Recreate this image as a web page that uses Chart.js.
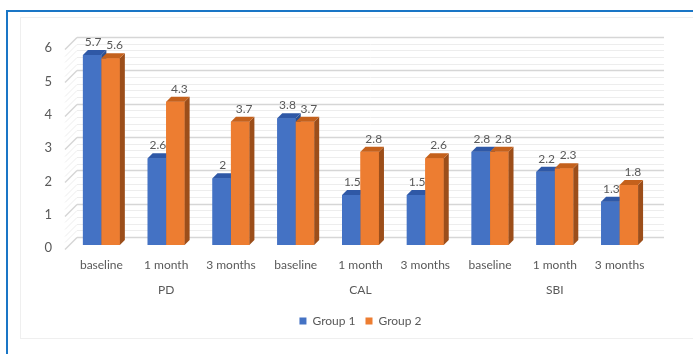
<!DOCTYPE html>
<html>
<head>
<meta charset="utf-8">
<script src="https://cdn.jsdelivr.net/npm/chart.js@4"></script>
<style>
  html, body { margin: 0; padding: 0; background: #fff; overflow: hidden; }
  #frame {
    position: absolute; left: 6px; top: 10px; width: 720px; height: 380px;
    border-top: 2px solid #1a76c6; border-left: 2px solid #1a76c6;
  }
  #inner {
    position: absolute; left: 20px; top: 17px; width: 700px; height: 320px;
    border: 1px solid #efefef;
  }
  #wrap { position: absolute; left: 0; top: 0; width: 693px; height: 354px; }
</style>
</head>
<body>
<div id="frame"></div>
<div id="inner"></div>
<div id="wrap"><canvas id="chart"></canvas></div>
<script>
"use strict";

// categories along the x axis, grouped by measure
var categories = ["baseline", "1 month", "3 months", "baseline", "1 month", "3 months", "baseline", "1 month", "3 months"];
var groups = ["PD", "CAL", "SBI"];
var group1 = [5.7, 2.6, 2, 3.8, 1.5, 1.5, 2.8, 2.2, 1.3];
var group2 = [5.6, 4.3, 3.7, 3.7, 2.8, 2.6, 2.8, 2.3, 1.8];
var yTicks = [0, 1, 2, 3, 4, 5, 6];

var TEXT = "#595959";
var FONT = "Lato, 'Open Sans', sans-serif";

// front, top and side colours of each 3D bar
var shades = [
  { front: "#4472C4", top: "#2f58a6", side: "#2b4f8f" },
  { front: "#ED7D31", top: "#c4611c", side: "#9c4e1a" }
];
var DEPTH = 5;   // bar extrusion
var WALL = 8;    // back wall offset

/* back wall and side wall grid, drawn behind the bars */
var wallPlugin = {
  id: "wall",
  beforeDatasetsDraw: function (chart) {
    var ctx = chart.ctx;
    var y = chart.scales.y;
    var area = chart.chartArea;
    ctx.save();
    for (var i = 0; i <= 30; i++) {
      var py = Math.round(y.getPixelForValue(i / 5)) + 0.5;
      var major = i % 5 === 0;
      ctx.strokeStyle = major ? "#d6d6d6" : "#ededed";
      ctx.lineWidth = major ? 1.5 : 1;
      ctx.beginPath();
      ctx.moveTo(area.left + WALL, py - WALL);
      ctx.lineTo(area.right + 12, py - WALL);
      ctx.moveTo(area.left - 4, py + 4);
      ctx.lineTo(area.left + WALL, py - WALL);
      ctx.stroke();
    }
    ctx.restore();
  }
};

/* keep the legend centred under the plot rather than the canvas */
var legendPlugin = {
  id: "legendCentre",
  afterUpdate: function (chart) {
    var lg = chart.legend;
    var area = chart.chartArea;
    var shift = (area.left + area.right) / 2 - (lg.left + lg.right) / 2;
    lg.left += shift;
    lg.right += shift;
  }
};

/* extrusion and value labels for every bar */
var barPlugin = {
  id: "bars3d",
  afterDatasetsDraw: function (chart) {
    var ctx = chart.ctx;
    ctx.save();
    var n = chart.data.labels.length;
    for (var j = 0; j < n; j++) {
      chart.data.datasets.forEach(function (ds, d) {
        var bar = chart.getDatasetMeta(d).data[j];
        var p = bar.getProps(["x", "y", "base", "width"], true);
        var l = p.x - p.width / 2, r = p.x + p.width / 2;
        var c = shades[d];
        ctx.fillStyle = c.front;
        ctx.fillRect(l, p.y, p.width, p.base - p.y);
        ctx.fillStyle = c.side;
        ctx.beginPath();
        ctx.moveTo(r, p.y);
        ctx.lineTo(r + DEPTH, p.y - DEPTH);
        ctx.lineTo(r + DEPTH, p.base - DEPTH);
        ctx.lineTo(r, p.base);
        ctx.closePath();
        ctx.fill();
        ctx.fillStyle = c.top;
        ctx.beginPath();
        ctx.moveTo(l, p.y);
        ctx.lineTo(r, p.y);
        ctx.lineTo(r + DEPTH, p.y - DEPTH);
        ctx.lineTo(l + DEPTH, p.y - DEPTH);
        ctx.closePath();
        ctx.fill();
      });
    }
    ctx.fillStyle = TEXT;
    ctx.font = "12px " + FONT;
    ctx.textAlign = "center";
    ctx.textBaseline = "middle";
    chart.data.datasets.forEach(function (ds, d) {
      chart.getDatasetMeta(d).data.forEach(function (bar, j) {
        var p = bar.getProps(["x", "y"], true);
        ctx.fillText(String(ds.data[j]), p.x + 1 + d * 3, p.y - 13);
      });
    });
    ctx.restore();
  }
};

var config = {
  type: "bar",
  data: {
    labels: categories,
    datasets: [
      { label: "Group 1", data: group1, backgroundColor: shades[0].front },
      { label: "Group 2", data: group2, backgroundColor: shades[1].front }
    ]
  },
  options: {
    responsive: true,
    maintainAspectRatio: false,
    animation: false,
    categoryPercentage: 0.57,
    barPercentage: 1,
    layout: { padding: { top: 45, right: 41, left: 0, bottom: 17 } },
    plugins: {
      tooltip: { enabled: false },
      legend: {
        position: "bottom",
        labels: {
          boxWidth: 7, boxHeight: 7, padding: 10,
          color: TEXT, font: { family: FONT, size: 12 }
        }
      }
    },
    scales: {
      x: {
        grid: { display: false, drawTicks: false },
        border: { display: false },
        ticks: {
          color: TEXT, font: { family: FONT, size: 12 },
          padding: 13, autoSkip: false, maxRotation: 0
        },
        afterFit: function (s) { s.height = 30; }
      },
      x2: {
        type: "category",
        labels: groups,
        position: "bottom",
        offset: true,
        grid: { display: false, drawTicks: false },
        border: { display: false },
        ticks: { color: TEXT, font: { family: FONT, size: 12 }, padding: 8 },
        afterFit: function (s) { s.height = 30; }
      },
      y: {
        min: 0,
        max: 6,
        grid: { display: false, drawTicks: false },
        border: { display: false },
        ticks: {
          stepSize: 1, padding: 17, labelOffset: 3,
          color: TEXT, font: { family: FONT, size: 13 },
          callback: function (v) { return yTicks.indexOf(v) >= 0 ? v : ""; }
        },
        afterFit: function (s) { s.width = 69; }
      }
    }
  },
  plugins: [wallPlugin, legendPlugin, barPlugin]
};

new Chart(document.getElementById("chart"), config);
</script>
</body>
</html>
